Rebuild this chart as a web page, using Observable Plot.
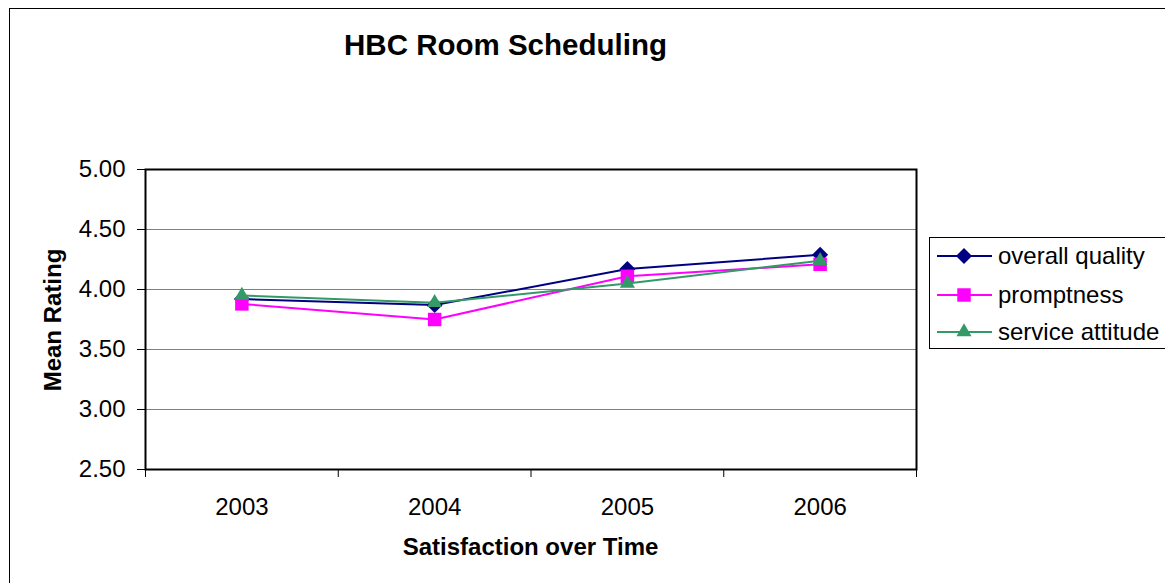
<!DOCTYPE html>
<html><head><meta charset="utf-8">
<script src="https://cdn.jsdelivr.net/npm/d3@7"></script>
<script src="https://cdn.jsdelivr.net/npm/@observablehq/plot@0.6"></script>
<style>body{margin:0;background:#fff;overflow:hidden;}</style>
</head><body><div id="chart"></div>
<script>
const years = [2003, 2004, 2005, 2006];
const seriesNames = ["overall quality", "promptness", "service attitude"];
const overallQuality = [3.92, 3.87, 4.17, 4.29];
const promptness = [3.88, 3.75, 4.11, 4.21];
const serviceAttitude = [3.95, 3.89, 4.05, 4.24];
const yTicks = [2.5, 3.0, 3.5, 4.0, 4.5, 5.0];
const colors = ["#000080", "#FF00FF", "#339966"];
const symbols = [d3.symbolDiamond2, d3.symbolSquare, d3.symbolTriangle];
const symbolR = [7.2, 7.6, 5.6];
const titleText = "HBC Room Scheduling";
const xTitle = "Satisfaction over Time";
const yTitle = "Mean Rating";

const seriesValues = [overallQuality, promptness, serviceAttitude];
const data = seriesNames.flatMap((s, i) => years.map((yr, j) => ({series: s, year: yr, value: seriesValues[i][j]})));
const boundaries = years.map(y => y - 0.5).concat([years[years.length - 1] + 0.5]);

const W = 1165, H = 583;
const font = "'Liberation Sans', Arial, sans-serif";

const marks = [
  Plot.gridY(yTicks, {stroke: "#808080", strokeOpacity: 1, strokeWidth: 1}),
  Plot.axisY({ticks: yTicks, tickFormat: d3.format(".2f"), tickSize: 8, tickPadding: 12, fontSize: 24, label: null, stroke: "#000"}),
  Plot.axisX({ticks: years, tickFormat: d => String(d), tickSize: 0, tickPadding: 28, fontSize: 24, label: null}),
  Plot.axisX({ticks: boundaries, tickFormat: () => "", tickSize: 8, label: null, stroke: "#000"}),
];
seriesNames.forEach((s, i) => {
  const rows = data.filter(d => d.series === s);
  marks.push(Plot.line(rows, {x: "year", y: "value", stroke: colors[i], strokeWidth: 2}));
  marks.push(Plot.dot(rows, {x: "year", y: "value", symbol: () => symbols[i], fill: colors[i], stroke: "none", r: symbolR[i]}));
});
marks.push(Plot.frame({stroke: "#000", strokeWidth: 2}));

const plot = Plot.plot({
  width: W, height: H,
  marginLeft: 145, marginRight: W - 916, marginTop: 169, marginBottom: H - 469,
  x: {type: "linear", domain: [boundaries[0], boundaries[boundaries.length - 1]]},
  y: {domain: [yTicks[0], yTicks[yTicks.length - 1]]},
  symbol: {type: "identity"},
  style: {fontFamily: font, fontSize: "24px", color: "#000", background: "#fff"},
  marks
});
document.getElementById("chart").appendChild(plot);

const svg = d3.select(plot);
svg.append("rect").attr("x", 9.5).attr("y", 8.5).attr("width", W + 10).attr("height", H + 10)
  .attr("fill", "none").attr("stroke", "#000").attr("stroke-width", 1);
svg.append("text").attr("x", 505.5).attr("y", 55).attr("text-anchor", "middle")
  .style("font-family", font).style("font-size", "29.5px").style("font-weight", "bold").text(titleText);
svg.append("text").attr("x", 530.5).attr("y", 555).attr("text-anchor", "middle")
  .style("font-family", font).style("font-size", "24px").style("font-weight", "bold").text(xTitle);
svg.append("text").attr("transform", "translate(61,320) rotate(-90)").attr("text-anchor", "middle")
  .style("font-family", font).style("font-size", "24px").style("font-weight", "bold").text(yTitle);

// legend
const lg = svg.append("g");
lg.append("rect").attr("x", 929.5).attr("y", 237.5).attr("width", 260).attr("height", 111)
  .attr("fill", "#fff").attr("stroke", "#000").attr("stroke-width", 1);
const rowsY = [256, 295, 332];
seriesNames.forEach((s, i) => {
  const y = rowsY[i];
  lg.append("line").attr("x1", 937).attr("x2", 992).attr("y1", y).attr("y2", y)
    .attr("stroke", colors[i]).attr("stroke-width", 2);
  lg.append("path").attr("transform", `translate(964,${y})`)
    .attr("d", d3.symbol().type(symbols[i]).size(symbolR[i] * symbolR[i] * Math.PI)()).attr("fill", colors[i]);
  lg.append("text").attr("x", 998).attr("y", y).attr("dy", "0.35em").attr("text-anchor", "start")
    .style("font-family", font).style("font-size", "24px").text(s);
});
</script>
</body></html>
